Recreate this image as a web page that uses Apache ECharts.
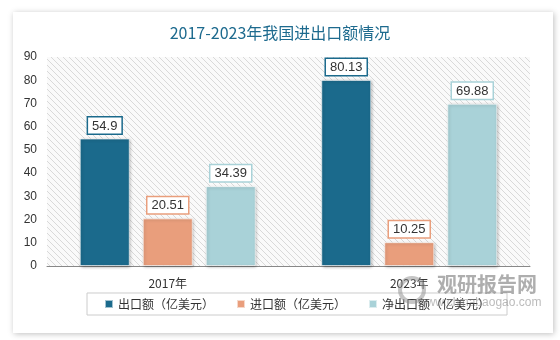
<!DOCTYPE html>
<html><head><meta charset="utf-8">
<script src="https://cdn.jsdelivr.net/npm/echarts@6/dist/echarts.min.js"></script>
<style>html,body{margin:0;padding:0;background:#fff}#c{width:560px;height:340px}</style>
</head><body><div id="c"></div>
<script>
var categories = ['2017年', '2023年'];
var exportVals = [54.9, 80.13];
var importVals = [20.51, 10.25];
var netVals = [34.39, 69.88];
var seriesNames = ['出口额（亿美元）', '进口额（亿美元）', '净出口额（亿美元）'];
var colors = ['#1b6a8c', '#e99e7c', '#a9d2d8'];

var pc = document.createElement('canvas');
pc.width = 6; pc.height = 6;
var g = pc.getContext('2d');
g.fillStyle = '#fafafa'; g.fillRect(0,0,6,6);
g.strokeStyle = '#d9d9d9'; g.lineWidth = 1;
g.beginPath(); g.moveTo(-1,-1); g.lineTo(7,7); g.moveTo(-4,2); g.lineTo(4,10); g.moveTo(2,-4); g.lineTo(10,4); g.stroke();

var chart = echarts.init(document.getElementById('c'));
function mk(i, data) {
  return {
    name: seriesNames[i], type: 'bar', data: data, barWidth: 50, barGap: '26%',
    itemStyle: { color: colors[i], borderColor: 'rgba(255,255,255,0.6)', borderWidth: 1, shadowBlur: 3, shadowColor: 'rgba(0,0,0,0.3)', shadowOffsetX: 1, shadowOffsetY: 1 },
    label: { show: true, position: 'top', distance: 5, color: '#333', fontSize: 13, fontFamily: 'Liberation Sans, Arial, sans-serif',
      backgroundColor: '#fff', borderColor: colors[i], borderWidth: 1.5, padding: [2, 4, 1, 4] }
  };
}
chart.setOption({
  animation: false,
  graphic: [
    { type: 'rect', z: -10, shape: { x: 13, y: 12, width: 540, height: 321 }, style: { fill: '#fff', shadowBlur: 6, shadowColor: 'rgba(0,0,0,0.25)', shadowOffsetX: 1, shadowOffsetY: 1 } },
    { type: 'circle', z: 100, shape: { cx: 412, cy: 290, r: 12 }, style: { fill: 'none', stroke: 'rgba(140,140,140,0.5)', lineWidth: 4 } },
    { type: 'text', left: 437, top: 274, z: 100, style: { text: '观研报告网', fill: 'rgba(120,120,120,0.6)', font: 'bold 20px "Noto Sans CJK SC"' } },
    { type: 'text', left: 418, top: 297, z: 100, style: { text: 'www.chinabaogao.com', fill: 'rgba(120,120,120,0.5)', font: '12px "Liberation Sans"' } }
  ],
  title: { text: '2017-2023年我国进出口额情况', left: 'center', top: 20,
    textStyle: { color: '#1d6a8e', fontSize: 16, fontWeight: 'normal', fontFamily: 'Noto Sans CJK SC' } },
  legend: { bottom: 25, left: 87, itemWidth: 8, itemHeight: 8, itemGap: 22, icon: 'rect',
    borderColor: '#ccc', borderWidth: 1, padding: [5, 17],
    textStyle: { color: '#333', fontSize: 12, fontFamily: 'Noto Sans CJK SC' } },
  grid: { left: 47, right: 30, top: 57, bottom: 74, show: true, borderWidth: 0,
    backgroundColor: { image: pc, repeat: 'repeat' } },
  xAxis: { type: 'category', data: categories,
    axisLine: { lineStyle: { color: '#888' } }, axisTick: { show: false },
    axisLabel: { color: '#333', fontSize: 12, margin: 11, fontFamily: 'Noto Sans CJK SC' } },
  yAxis: { type: 'value', min: 0, max: 90, interval: 10, splitLine: { show: false },
    axisLabel: { color: '#333', fontSize: 12, margin: 10, fontFamily: 'Liberation Sans, Arial, sans-serif' } },
  series: [mk(0, exportVals), mk(1, importVals), mk(2, netVals)]
});
</script></body></html>
